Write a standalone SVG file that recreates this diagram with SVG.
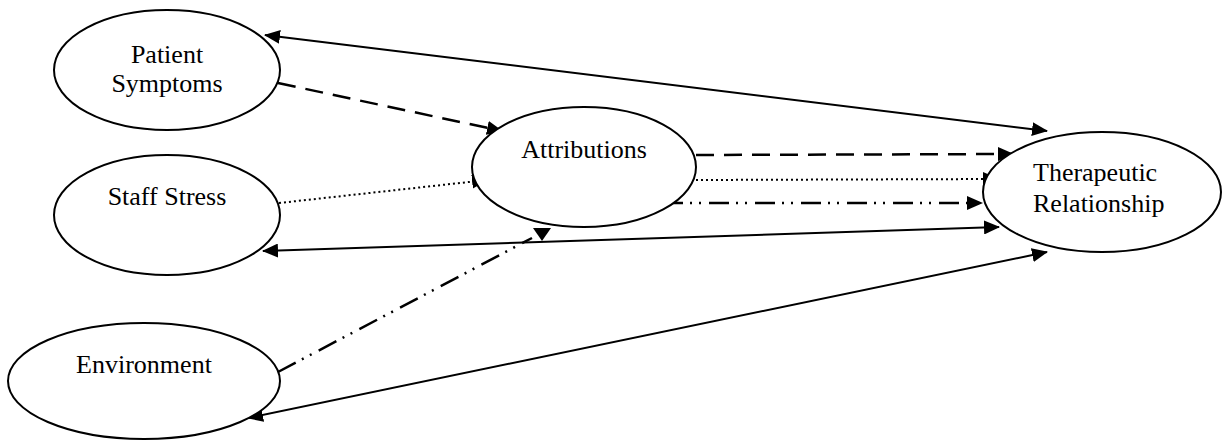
<svg xmlns="http://www.w3.org/2000/svg" width="1222" height="441" viewBox="0 0 1222 441">
<style>
.node ellipse{fill:#fff;stroke:#000;stroke-width:2}
.node text{font-family:"Liberation Serif","Times New Roman",serif;font-size:26px;fill:#000}
.c{stroke:#000;stroke-width:2;fill:none}
.dash{stroke-dasharray:18 10;stroke-width:2.5}
.dot{stroke-dasharray:2 3}
.dd{stroke-dasharray:20 7 2 7 2 8;stroke-width:2.5}
</style>
<defs>
<marker id="ah" markerUnits="userSpaceOnUse" markerWidth="16" markerHeight="14" refX="15" refY="7" orient="auto-start-reverse" viewBox="0 0 16 14">
<path d="M0,0 L16,7 L0,14 Z" fill="#000"/>
</marker>
</defs>
<g id="connectors">
<line class="c" x1="265" y1="35" x2="1047" y2="131" marker-start="url(#ah)" marker-end="url(#ah)"/>
<line class="c dash" x1="278" y1="83" x2="502" y2="131" marker-end="url(#ah)"/>
<line class="c dot" x1="279" y1="203" x2="487" y2="180" marker-end="url(#ah)"/>
<line class="c" x1="263" y1="251" x2="999" y2="227" marker-start="url(#ah)" marker-end="url(#ah)"/>
<line class="c dd" x1="278" y1="372" x2="532" y2="238"/>
<polygon points="533,228 551,228 542,241" fill="#000"/>
<line class="c" x1="248" y1="418" x2="1047" y2="252" marker-start="url(#ah)" marker-end="url(#ah)"/>
<line class="c dash" x1="696" y1="155" x2="1013" y2="154" marker-end="url(#ah)"/>
<line class="c dot" x1="696" y1="180" x2="998" y2="179" marker-end="url(#ah)"/>
<line class="c dd" x1="663" y1="203" x2="982" y2="203" marker-end="url(#ah)"/>
</g>
<g id="patient-symptoms" class="node">
<ellipse cx="167" cy="70" rx="113" ry="60"/>
<text x="167" y="63" text-anchor="middle">Patient</text>
<text x="167" y="92" text-anchor="middle">Symptoms</text>
</g>
<g id="staff-stress" class="node">
<ellipse cx="167" cy="215" rx="113" ry="60"/>
<text x="167" y="205" text-anchor="middle">Staff Stress</text>
</g>
<g id="environment" class="node">
<ellipse cx="144" cy="381" rx="136" ry="58"/>
<text x="144" y="373" text-anchor="middle">Environment</text>
</g>
<g id="attributions" class="node">
<ellipse cx="584" cy="167" rx="112" ry="60"/>
<text x="584" y="158" text-anchor="middle">Attributions</text>
</g>
<g id="therapeutic-relationship" class="node">
<ellipse cx="1102" cy="192" rx="119" ry="60"/>
<text x="1033" y="181">Therapeutic</text>
<text x="1033" y="212">Relationship</text>
</g>
</svg>
